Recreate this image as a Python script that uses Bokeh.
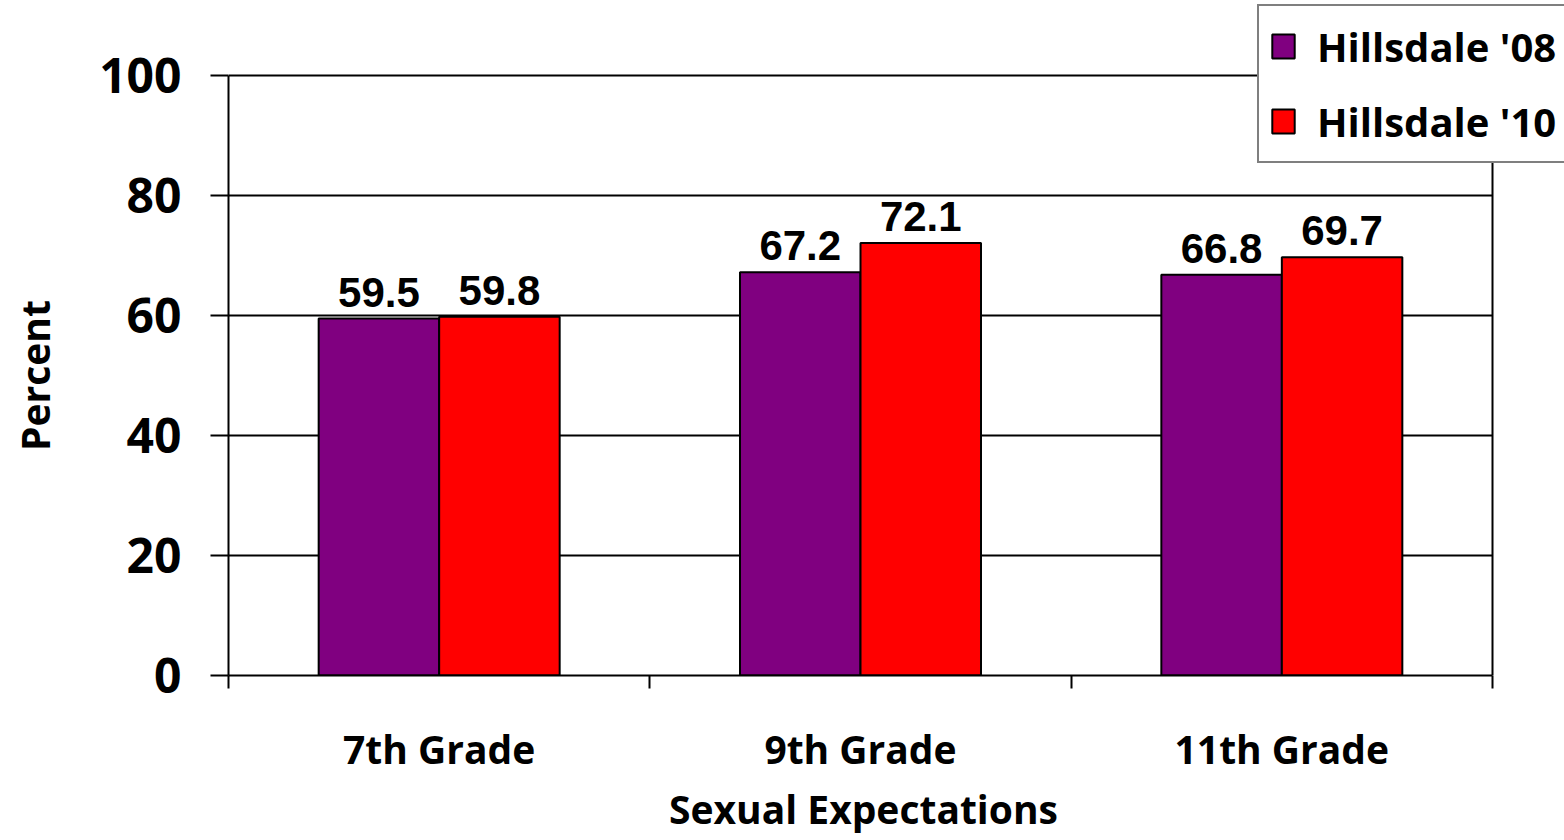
from bokeh.plotting import figure
from bokeh.models import (Range1d, FixedTicker, Legend, LegendItem, ColumnDataSource,
                          Title, LinearAxis)
from bokeh.core.properties import value
from bokeh.embed import file_html
from bokeh.resources import INLINE

categories = ["7th Grade", "9th Grade", "11th Grade"]
series_names = ["Hillsdale '08", "Hillsdale '10"]
values_08 = [59.5, 67.2, 66.8]
values_10 = [59.8, 72.1, 69.7]
y_ticks = [0, 20, 40, 60, 80, 100]
colors = ["#800080", "#FF0000"]
x_title = "Sexual Expectations"
y_title = "Percent"

BAR_W = 0.286
n_cat = len(categories)
y_max = y_ticks[-1]
centers = [i + 0.5 for i in range(n_cat)]
boundaries = [float(i) for i in range(n_cat + 1)]

# layout (pixels)
W, H = 1564, 840
LEFT, BOTTOM = 228, 165
PLOT_W, PLOT_H = 1264, 600          # drawing area of the axes
FRAME_W, FRAME_H = W - LEFT, H - BOTTOM

p = figure(width=W, height=H, output_backend="svg", toolbar_location=None,
           x_range=Range1d(0, n_cat * FRAME_W / PLOT_W),
           y_range=Range1d(0, y_max * FRAME_H / PLOT_H),
           min_border_left=LEFT, min_border_right=0, min_border_top=0,
           min_border_bottom=BOTTOM, background_fill_color="white",
           border_fill_color="white")
p.outline_line_color = None
p.xgrid.visible = False
p.ygrid.visible = False

# grid lines and right border of the plot box
grid_y = y_ticks[1:]
p.segment(x0=[0] * len(grid_y), x1=[n_cat] * len(grid_y), y0=grid_y, y1=grid_y,
          line_color="black", line_width=2)
p.segment(x0=[n_cat], x1=[n_cat], y0=[0], y1=[y_max],
          line_color="black", line_width=2)

renderers = []
for k, (vals, col) in enumerate(zip([values_08, values_10], colors)):
    off = -BAR_W / 2 if k == 0 else BAR_W / 2
    src = ColumnDataSource(dict(
        x=[c + off for c in centers],
        top=vals,
        label=[f"{v:.1f}" for v in vals],
    ))
    r = p.vbar(x="x", top="top", bottom=0, width=BAR_W, source=src,
               fill_color=col, line_color="black", line_width=2)
    p.text(x="x", y="top", text="label", source=src,
           text_font=value("Liberation Sans"), text_font_style="bold",
           text_font_size="42px", text_align="center", text_baseline="bottom",
           y_offset=-12, text_color="black")
    renderers.append(r)

# Y axis
yax = p.yaxis[0]
yax.bounds = (0, y_max)
yax.ticker = FixedTicker(ticks=y_ticks, minor_ticks=[])
yax.axis_line_color = "black"
yax.axis_line_width = 2
yax.major_tick_out = 18
yax.major_tick_in = 0
yax.major_tick_line_color = "black"
yax.major_tick_line_width = 2
yax.minor_tick_out = 0
yax.minor_tick_in = 0
yax.major_label_text_font = "Open Sans"
yax.major_label_text_font_style = "bold"
yax.major_label_text_font_size = "48px"
yax.major_label_text_color = "black"
yax.major_label_standoff = 29

# invisible spacer between the y axis and its title
mid = y_max / 2
spacer = LinearAxis(ticker=FixedTicker(ticks=[mid], minor_ticks=[]),
                    major_label_overrides={mid: ""},
                    major_tick_out=29, major_tick_in=0,
                    minor_tick_out=0, minor_tick_in=0,
                    axis_line_color=None, major_tick_line_color=None,
                    minor_tick_line_color=None, major_label_standoff=0,
                    major_label_text_alpha=0)
p.add_layout(spacer, "left")

# X axis
xax = p.xaxis[0]
xax.bounds = (0, n_cat)
xax.ticker = FixedTicker(ticks=centers, minor_ticks=boundaries)
xax.major_label_overrides = {c: name for c, name in zip(centers, categories)}
xax.axis_line_color = "black"
xax.axis_line_width = 2
xax.major_tick_out = 0
xax.major_tick_in = 0
xax.minor_tick_out = 13
xax.minor_tick_in = 0
xax.minor_tick_line_color = "black"
xax.minor_tick_line_width = 2
xax.major_label_text_font = "Open Sans"
xax.major_label_text_font_style = "bold"
xax.major_label_text_font_size = "39px"
xax.major_label_text_color = "black"
xax.major_label_standoff = 33

# axis titles, centred on the plot box (not on the widened frame)
X_TITLE_W = 383   # approx. rendered width of x_title
Y_TITLE_W = 151   # approx. rendered length of y_title
xt = Title(text=x_title, align="left", vertical_align="top",
           offset=PLOT_W / 2 - X_TITLE_W / 2, standoff=8,
           text_font="Open Sans", text_font_style="bold",
           text_font_size="39px", text_color="black")
p.add_layout(xt, "below")
yt = Title(text=y_title, align="left", vertical_align="top",
           offset=PLOT_H / 2 - Y_TITLE_W / 2, standoff=10,
           text_font="Open Sans", text_font_style="bold",
           text_font_size="39px", text_color="black")
p.add_layout(yt, "left")

legend = Legend(
    items=[LegendItem(label=n, renderers=[r]) for n, r in zip(series_names, renderers)],
    location=(1029, 512),
    label_text_font="Open Sans", label_text_font_style="bold",
    label_text_font_size="40px", label_text_color="black",
    glyph_width=28, glyph_height=30, label_standoff=20, label_height=60,
    padding=10, spacing=15, margin=0,
    border_line_color="black", border_line_width=2,
    background_fill_color="white", background_fill_alpha=1.0,
)
p.add_layout(legend, "center")

open("out.html", "w").write(file_html(p, INLINE))
